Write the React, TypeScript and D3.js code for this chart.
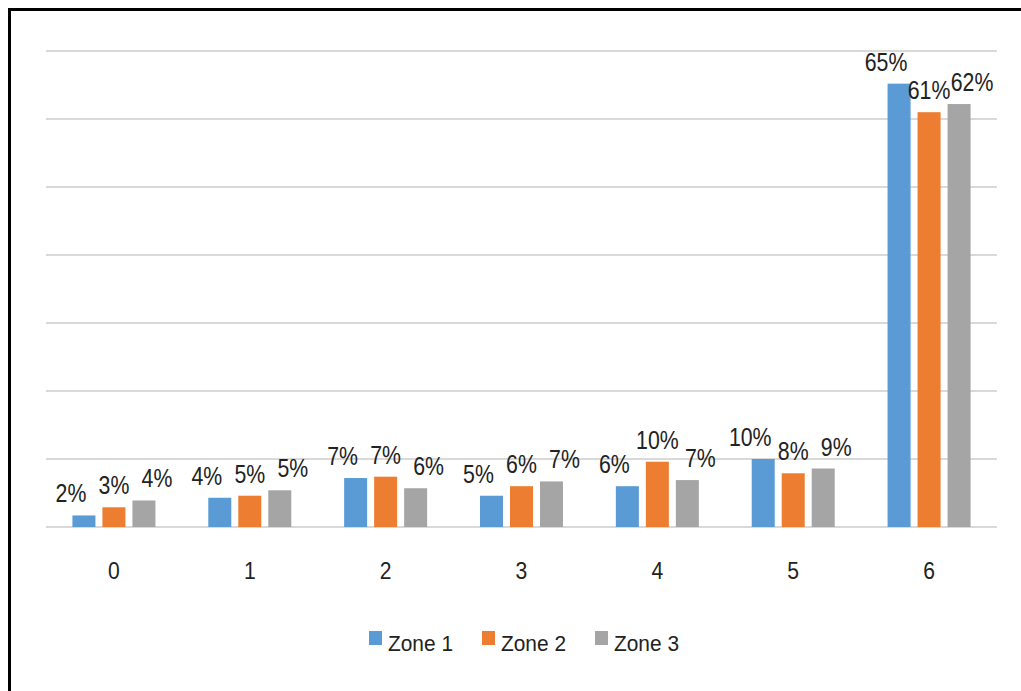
import React from "react";
import * as d3 from "d3";

// categories on the x axis
const categories = ["0", "1", "2", "3", "4", "5", "6"];
const seriesNames = ["Zone 1", "Zone 2", "Zone 3"];

// percentages
const zone1 = [1.7, 4.3, 7.2, 4.6, 6.0, 10.0, 65.2];
const zone2 = [2.9, 4.6, 7.4, 6.0, 9.6, 7.9, 61.0];
const zone3 = [3.9, 5.4, 5.7, 6.7, 6.9, 8.6, 62.2];

const yTicks = [0, 10, 20, 30, 40, 50, 60, 70];

const colors = ["#5B9BD5", "#ED7D31", "#A5A5A5"];

export default function App() {
  const series = [zone1, zone2, zone3];

  const left = 46, right = 997, top = 51, bottom = 527;

  const x0 = d3.scaleBand<string>()
    .domain(categories)
    .range([left, right])
    .paddingInner(0.389)
    .paddingOuter(0.1945);

  const x1 = d3.scaleBand<string>()
    .domain(seriesNames)
    .range([0, x0.bandwidth()])
    .paddingInner(0.233)
    .paddingOuter(0);

  const y = d3.scaleLinear().domain([0, 70]).range([bottom, top]);

  // Excel nudged the outer labels sideways so they don't collide
  const labelShift = [-13, 0, 13];

  const textColor = "#222";
  const font = '"Liberation Sans", Arial, sans-serif';

  return (
    <svg width={1021} height={691} style={{ position: "absolute", left: 0, top: 0, background: "#fff" }}>
      <rect x={0} y={0} width={1021} height={691} fill="#fff" />
      {/* frame, cropped at right and bottom */}
      <rect x={9.5} y={9.5} width={1100} height={800} fill="none" stroke="#000" strokeWidth={3} />

      {yTicks.map(t => (
        <line key={t} x1={left} x2={right} y1={y(t)} y2={y(t)} stroke="#D9D9D9" strokeWidth={2} />
      ))}

      {categories.map((c, ci) => (
        <g key={c} transform={`translate(${x0(c)},0)`}>
          {seriesNames.map((s, si) => {
            const v = series[si][ci];
            const bx = x1(s)!;
            return (
              <rect key={s} x={bx} y={y(v)} width={x1.bandwidth()} height={y(0) - y(v)} fill={colors[si]} />
            );
          })}
          {seriesNames.map((s, si) => {
            const v = series[si][ci];
            const cx = x1(s)! + x1.bandwidth() / 2 + labelShift[si];
            return (
              <text key={s} transform={`translate(${cx},${y(v) - 13}) scale(0.82,1)`} textAnchor="middle"
                fontSize={26} fontFamily={font} fill={textColor}>
                {Math.round(v) + "%"}
              </text>
            );
          })}
          <text transform={`translate(${x0.bandwidth() / 2},579) scale(0.92,1)`} textAnchor="middle"
            fontSize={23} fontFamily={font} fill={textColor}>
            {c}
          </text>
        </g>
      ))}

      {seriesNames.map((s, si) => (
        <g key={s} transform={`translate(${369 + si * 113},631)`}>
          <rect x={0} y={0} width={13} height={14} fill={colors[si]} />
          <text transform="translate(19,20) scale(0.95,1)" fontSize={22} fontFamily={font} fill={textColor}>{s}</text>
        </g>
      ))}
    </svg>
  );
}
